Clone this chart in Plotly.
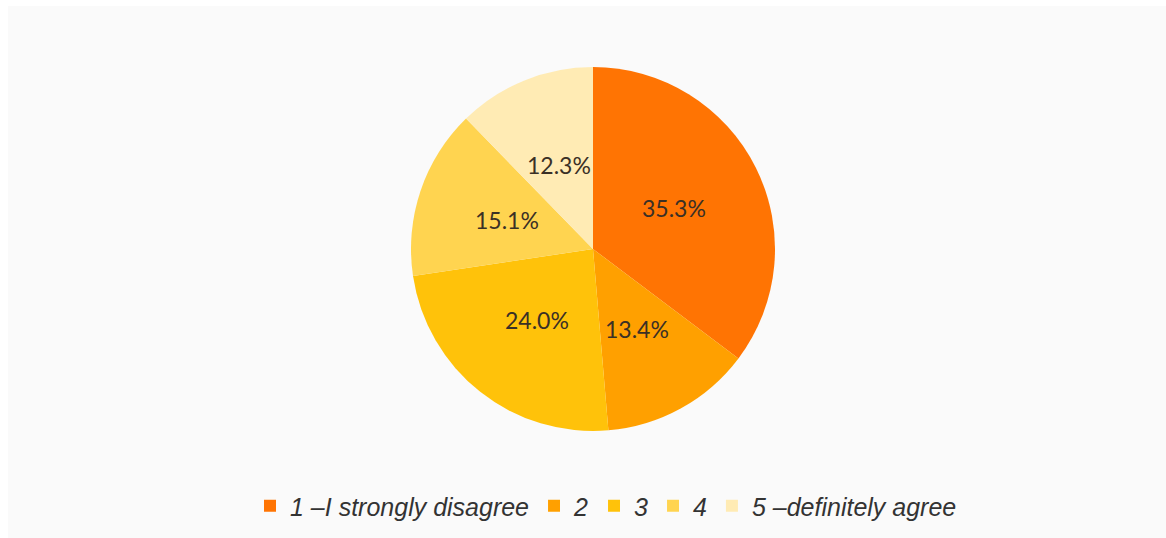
import math
import plotly.graph_objects as go

# Survey response shares (percent), clockwise from 12 o'clock
categories = ["1 \u2013I strongly disagree", "2", "3", "4", "5 \u2013definitely agree"]
shares = [35.3, 13.4, 24.0, 15.1, 12.3]
colors = ["#FF7403", "#FFA000", "#FFC20A", "#FFD450", "#FFEBB4"]

W, H = 1166, 538
CX, CY, R = 593, 249, 182  # pie centre and radius in pixels

fig = go.Figure(
    go.Pie(
        labels=categories,
        values=shares,
        sort=False,
        direction="clockwise",
        rotation=0,
        marker=dict(colors=colors, line=dict(width=0)),
        textinfo="none",
        hoverinfo="label+percent",
        domain=dict(
            x=[(CX - R) / W, (CX + R) / W],
            y=[(H - CY - R) / H, (H - CY + R) / H],
        ),
    )
)

# value labels at half radius along each slice's middle angle
annotations = []
total = sum(shares)
start = 0.0
for v in shares:
    mid = (start + v / 2) / total * 2 * math.pi
    start += v
    px = CX + 0.5 * R * math.sin(mid)
    py = CY - 0.5 * R * math.cos(mid)
    annotations.append(
        dict(
            x=px / W, y=(H - py) / H, xref="paper", yref="paper",
            text=f"{v:.1f}%", showarrow=False,
            font=dict(family="Lato", size=23, color="#3a3026"),
            xanchor="center", yanchor="middle",
        )
    )

fig.update_layout(
    width=W,
    height=H,
    margin=dict(l=0, r=0, t=0, b=0),
    paper_bgcolor="#ffffff",
    showlegend=True,
    legend=dict(
        orientation="h",
        x=606 / W,
        xanchor="center",
        y=(H - 506) / H,
        yanchor="middle",
        font=dict(family="Liberation Sans", size=25, color="#333333", style="italic"),
        bgcolor="rgba(0,0,0,0)",
    ),
    annotations=annotations,
    shapes=[
        dict(
            type="rect", xref="paper", yref="paper", layer="below",
            x0=8 / W, x1=1.0, y0=0.0, y1=1 - 6 / H,
            fillcolor="#fafafa", line=dict(width=0),
        )
    ],
)

fig.write_html("out.html")
